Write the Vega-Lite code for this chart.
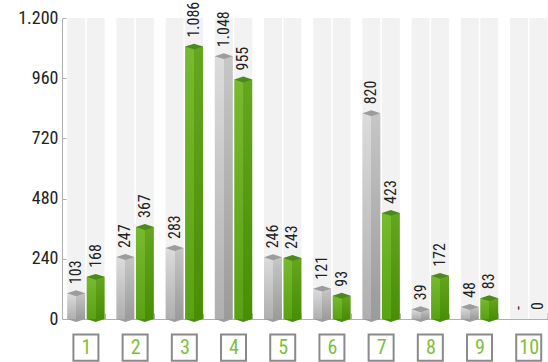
{
  "$schema": "https://vega.github.io/schema/vega-lite/v6.json",
  "width": 486,
  "height": 301,
  "autosize": {"type": "none"},
  "padding": {"left": 62, "top": 18, "right": 0, "bottom": 43},
  "config": {
    "view": {"stroke": null},
    "font": "Roboto Condensed, DejaVu Sans Condensed, Liberation Sans Narrow, Roboto, sans-serif",
    "locale": {"number": {"decimal": ",", "thousands": ".", "grouping": [3], "currency": ["", " €"]}}
  },
  "data": {
    "values": [
      {"cat": "1", "s": "A", "v": 103, "label": "103"},
      {"cat": "1", "s": "B", "v": 168, "label": "168"},
      {"cat": "2", "s": "A", "v": 247, "label": "247"},
      {"cat": "2", "s": "B", "v": 367, "label": "367"},
      {"cat": "3", "s": "A", "v": 283, "label": "283"},
      {"cat": "3", "s": "B", "v": 1086, "label": "1.086"},
      {"cat": "4", "s": "A", "v": 1048, "label": "1.048"},
      {"cat": "4", "s": "B", "v": 955, "label": "955"},
      {"cat": "5", "s": "A", "v": 246, "label": "246"},
      {"cat": "5", "s": "B", "v": 243, "label": "243"},
      {"cat": "6", "s": "A", "v": 121, "label": "121"},
      {"cat": "6", "s": "B", "v": 93, "label": "93"},
      {"cat": "7", "s": "A", "v": 820, "label": "820"},
      {"cat": "7", "s": "B", "v": 423, "label": "423"},
      {"cat": "8", "s": "A", "v": 39, "label": "39"},
      {"cat": "8", "s": "B", "v": 172, "label": "172"},
      {"cat": "9", "s": "A", "v": 48, "label": "48"},
      {"cat": "9", "s": "B", "v": 83, "label": "83"},
      {"cat": "10", "s": "A", "v": null, "label": "-"},
      {"cat": "10", "s": "B", "v": 0, "label": "0"}
    ]
  },
  "encoding": {
    "x": {
      "field": "cat",
      "type": "ordinal",
      "sort": null,
      "scale": {"paddingInner": 0.24, "paddingOuter": 0.059, "align": 0.9},
      "axis": {
        "title": null,
        "labelAngle": 0,
        "labelFontSize": 20,
        "labelColor": "#7dbf3a",
        "labelBaseline": "middle",
        "labelPadding": 34,
        "tickBand": "extent",
        "tickSize": -6,
        "tickColor": "#b0b0b0",
        "domainColor": "#b0b0b0",
        "grid": false
      }
    }
  },
  "layer": [
    {
      "mark": {"type": "bar", "color": "#f2f2f2"},
      "encoding": {
        "xOffset": {"field": "s", "scale": {"paddingInner": 0.08, "paddingOuter": 0}},
        "y": {
          "datum": 1200,
          "type": "quantitative",
          "scale": {"domain": [0, 1200], "nice": false},
          "axis": {
            "title": null,
            "values": [0, 240, 480, 720, 960, 1200],
            "format": ",d",
            "labelFontSize": 18,
            "labelColor": "#222222",
            "labelPadding": 8,
            "tickSize": -4,
            "tickColor": "#b0b0b0",
            "domainColor": "#b0b0b0",
            "grid": false
          }
        }
      }
    },
    {
      "transform": [{"filter": "datum.v > 0"}],
      "mark": {"type": "point", "shape": "M-1,0L0,-0.33L1,0L0,0.33Z", "filled": true, "size": 324, "opacity": 1},
      "encoding": {
        "xOffset": {"field": "s", "scale": {"paddingInner": 0.08, "paddingOuter": 0}},
        "y": {"datum": 0, "type": "quantitative"},
        "color": {"field": "s", "type": "nominal", "scale": {"range": ["#9c9c9c", "#4a8a1a"]}, "legend": null}
      }
    },
    {
      "transform": [{"filter": "datum.s == 'A'"}],
      "mark": {
        "type": "bar",
        "color": {"gradient": "linear", "x1": 0, "y1": 0, "x2": 0, "y2": 1,
          "stops": [{"offset": 0, "color": "#dadada"}, {"offset": 1, "color": "#aaaaaa"}]}
      },
      "encoding": {
        "xOffset": {"field": "s", "scale": {"paddingInner": 0.08, "paddingOuter": 0}},
        "y": {"field": "v", "type": "quantitative"}
      }
    },
    {
      "transform": [{"filter": "datum.s == 'B'"}],
      "mark": {
        "type": "bar",
        "color": {"gradient": "linear", "x1": 0, "y1": 0, "x2": 0, "y2": 1,
          "stops": [{"offset": 0, "color": "#6fb622"}, {"offset": 1, "color": "#4f9c06"}]}
      },
      "encoding": {
        "xOffset": {"field": "s", "scale": {"paddingInner": 0.08, "paddingOuter": 0}},
        "y": {"field": "v", "type": "quantitative"}
      }
    },
    {
      "mark": {
        "type": "bar",
        "color": {"gradient": "linear", "x1": 0, "y1": 0, "x2": 1, "y2": 0,
          "stops": [
            {"offset": 0, "color": "rgba(255,255,255,0.06)"},
            {"offset": 0.5, "color": "rgba(255,255,255,0.06)"},
            {"offset": 0.5, "color": "rgba(0,0,0,0.09)"},
            {"offset": 1, "color": "rgba(0,0,0,0.09)"}
          ]}
      },
      "encoding": {
        "xOffset": {"field": "s", "scale": {"paddingInner": 0.08, "paddingOuter": 0}},
        "y": {"field": "v", "type": "quantitative"}
      }
    },
    {
      "transform": [{"filter": "datum.v > 0"}],
      "mark": {"type": "point", "shape": "M-1,0L0,-0.33L1,0L0,0.33Z", "filled": true, "size": 324, "opacity": 1},
      "encoding": {
        "xOffset": {"field": "s", "scale": {"paddingInner": 0.08, "paddingOuter": 0}},
        "y": {"field": "v", "type": "quantitative"},
        "color": {"field": "s", "type": "nominal", "scale": {"range": ["#e8e8e8", "#a8d66c"]}, "legend": null}
      }
    },
    {
      "mark": {"type": "text", "angle": 270, "align": "left", "baseline": "middle", "dx": 9, "fontSize": 16, "color": "#222222", "invalid": "show"},
      "encoding": {
        "xOffset": {"field": "s", "scale": {"paddingInner": 0.08, "paddingOuter": 0}},
        "y": {"field": "v", "type": "quantitative"},
        "text": {"field": "label"}
      }
    },
    {
      "transform": [{"filter": "datum.s == 'A'"}],
      "mark": {"type": "point", "shape": "M-1,-1.05L1,-1.05L1,1.05L-1,1.05Z", "filled": false, "size": 625, "stroke": "#8a8a8a", "strokeWidth": 2, "opacity": 1},
      "encoding": {
        "y": {"datum": -114, "type": "quantitative"}
      }
    }
  ]
}
